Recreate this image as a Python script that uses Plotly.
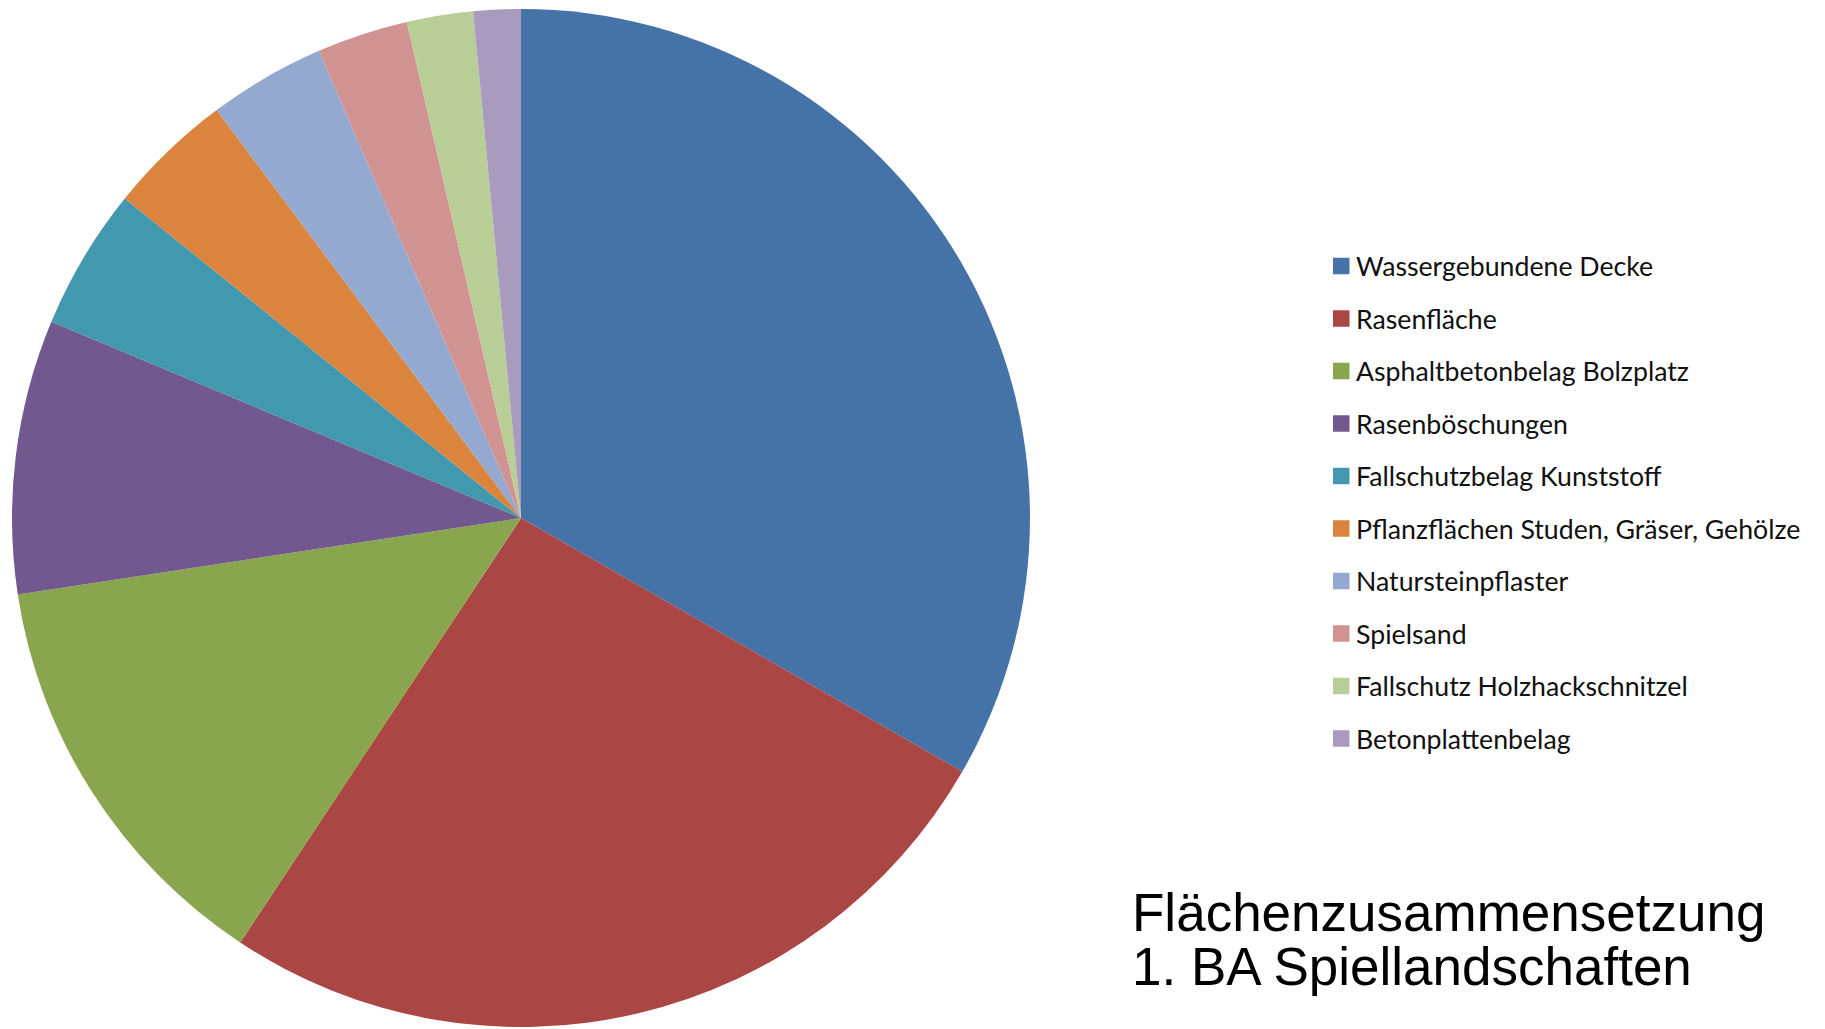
import plotly.graph_objects as go

labels = [
    "Wassergebundene Decke",
    "Rasenfläche",
    "Asphaltbetonbelag Bolzplatz",
    "Rasenböschungen",
    "Fallschutzbelag Kunststoff",
    "Pflanzflächen Studen, Gräser, Gehölze",
    "Natursteinpflaster",
    "Spielsand",
    "Fallschutz Holzhackschnitzel",
    "Betonplattenbelag",
]
values = [33.3, 26.0, 13.3, 8.7, 4.5, 4.0, 3.7, 2.9, 2.1, 1.5]
colors = ["#4572A7", "#AA4643", "#89A54E", "#71588F", "#4198AF",
          "#DB843D", "#93A9CF", "#D19392", "#B9CD96", "#A99BBD"]
title_lines = ["Flächenzusammensetzung", "1. BA Spiellandschaften"]

W, H = 1825, 1029

fig = go.Figure(go.Pie(
    labels=labels, values=values, sort=False, direction="clockwise", rotation=0,
    marker=dict(colors=colors, line=dict(width=0)),
    textinfo="none", hoverinfo="label+percent", showlegend=False,
    domain=dict(x=[12 / W, 1030 / W], y=[2 / H, 1020 / H]),
))

# manual legend (Excel style, spaced entries)
leg_x0, leg_y0, step, box = 1333, 266, 52.5, 16.5
for i, (lab, col) in enumerate(zip(labels, colors)):
    yc = leg_y0 + i * step
    fig.add_shape(type="rect", xref="paper", yref="paper",
                  x0=leg_x0 / W, x1=(leg_x0 + box) / W,
                  y0=1 - (yc - box / 2) / H, y1=1 - (yc + box / 2) / H,
                  fillcolor=col, line=dict(width=0))
    fig.add_annotation(x=1354 / W, y=1 - yc / H, xref="paper", yref="paper",
                       text=lab, showarrow=False, xanchor="left", yanchor="middle",
                       font=dict(family="Lato", size=26.7, color="#111111"))

for j, line in enumerate(title_lines):
    ym = 912.6 + j * 54
    fig.add_annotation(x=1130 / W, y=1 - ym / H, xref="paper", yref="paper",
                       text=line, showarrow=False, xanchor="left", yanchor="middle",
                       align="left",
                       font=dict(family="Liberation Sans, Arial", size=53, color="#000000"))

fig.update_layout(width=W, height=H, autosize=False,
                  margin=dict(l=0, r=0, t=0, b=0),
                  paper_bgcolor="white", plot_bgcolor="white")

fig.write_html("out.html", config={"displayModeBar": False},
               post_script="document.body.style.margin='0';document.body.style.overflow='hidden';")
